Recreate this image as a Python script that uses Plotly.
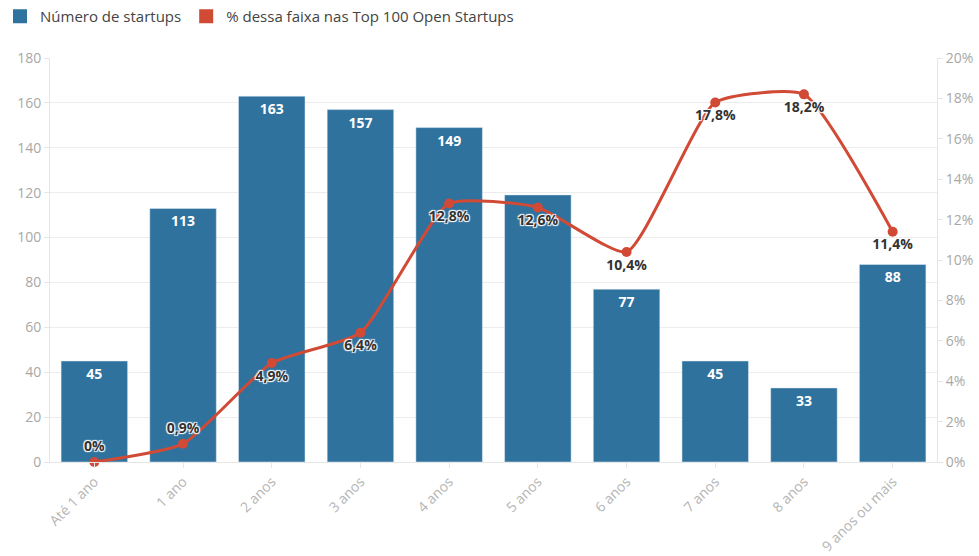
import plotly.graph_objects as go

categorias = ["Até 1 ano", "1 ano", "2 anos", "3 anos", "4 anos", "5 anos",
              "6 anos", "7 anos", "8 anos", "9 anos ou mais"]
num_startups = [45, 113, 163, 157, 149, 119, 77, 45, 33, 88]
pct_top100 = [0.0, 0.9, 4.9, 6.4, 12.8, 12.6, 10.4, 17.8, 18.2, 11.4]
pct_labels = ["0%", "0,9%", "4,9%", "6,4%", "12,8%", "12,6%", "10,4%", "17,8%", "18,2%", "11,4%"]
pct_label_pos = ["top center", "top center"] + ["bottom center"] * 8
# the "5 anos" count label is covered by the percentage label
bar_labels = [str(v) for v in num_startups]
bar_labels[5] = ""

bar_color = "#2f729e"
line_color = "#d14a35"
font_family = "Open Sans, Lato, sans-serif"
halo = "1px 1px 1px #fff, -1px -1px 1px #fff, 1px -1px 1px #fff, -1px 1px 1px #fff"

fig = go.Figure()
fig.add_trace(go.Bar(
    x=categorias, y=num_startups, name="Número de startups",
    marker=dict(color=bar_color),
    text=bar_labels, textposition="inside", insidetextanchor="end",
    textfont=dict(color="white", size=14, family=font_family, weight="bold"),
    textangle=0, hoverinfo="x+y", showlegend=False,
))
fig.add_trace(go.Scatter(
    x=categorias, y=pct_top100, name="% dessa faixa nas Top 100 Open Startups",
    yaxis="y2", mode="lines+markers+text",
    line=dict(color=line_color, width=3, shape="spline", smoothing=0.5),
    marker=dict(color=line_color, size=10),
    text=pct_labels, textposition=pct_label_pos,
    textfont=dict(color="#333333", size=14, family=font_family, weight="bold", shadow=halo),
    cliponaxis=False, showlegend=False,
))

# legend entries drawn as square swatches
for name, color in [("Número de startups", bar_color),
                    ("% dessa faixa nas Top 100 Open Startups", line_color)]:
    fig.add_trace(go.Scatter(
        x=[None], y=[None], mode="markers", name=name,
        marker=dict(symbol="square", size=14, color=color),
    ))

fig.update_layout(
    width=979, height=556,
    margin=dict(l=50, r=42, t=58, b=94),
    paper_bgcolor="white", plot_bgcolor="white",
    font=dict(family=font_family, color="#555555"),
    bargap=0.25,
    showlegend=True,
    legend=dict(orientation="h", x=-0.005, y=1, xref="container", yref="container",
                xanchor="left", yanchor="top",
                font=dict(size=15, color="#444444"),
                itemwidth=30, tracegroupgap=0),
    xaxis=dict(
        range=[-0.5, len(categorias) - 0.5],
        tickangle=-45, tickfont=dict(size=14, color="#b5b5b5"), automargin=False,
        showgrid=False, ticks="outside", ticklen=5, tickcolor="#e6e6e6",
        showline=True, linecolor="#e6e6e6",
    ),
    yaxis=dict(
        range=[0, 180], dtick=20, tickfont=dict(size=14, color="#a8a8a8"), automargin=False,
        showgrid=True, gridcolor="#ececec", zeroline=False,
        showline=True, linecolor="#e6e6e6", ticks="outside", ticklen=5, tickcolor="#e6e6e6",
    ),
    yaxis2=dict(
        range=[0, 20], dtick=2, ticksuffix="%", overlaying="y", side="right", automargin=False,
        tickfont=dict(size=14, color="#a8a8a8"), showgrid=False, zeroline=False,
        showline=True, linecolor="#e6e6e6", ticks="outside", ticklen=5, tickcolor="#e6e6e6",
    ),
)

fig.write_html("out.html")
